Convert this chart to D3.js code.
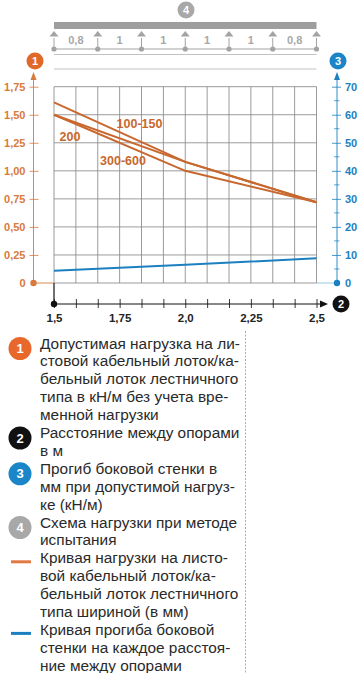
<!DOCTYPE html>
<html><head><meta charset="utf-8">
<script src="https://cdn.jsdelivr.net/npm/d3@7"></script>
<style>
html,body{margin:0;padding:0;background:#fff;}
svg{display:block;}
</style></head>
<body>
<svg id="c" width="360" height="673"></svg>
<script>
// ---- data ----
const spanX = [1.5, 2.0, 2.5];
const load100_150 = [1.61, 1.08, 0.72];
const load200 = [1.50, 1.08, 0.72];
const load300_600 = [1.50, 1.00, 0.72];
const deflection = [4.4, 6.5, 8.8];
const seriesLabels = ["100-150", "200", "300-600"];
const xTickLabels = [1.5, 1.75, 2.0, 2.25, 2.5];
const xTickText = ["1,5", "1,75", "2,0", "2,25", "2,5"];
const yLeftTicks = [0, 0.25, 0.5, 0.75, 1.0, 1.25, 1.5, 1.75];
const yLeftText = ["0", "0,25", "0,50", "0,75", "1,00", "1,25", "1,50", "1,75"];
const yRightTicks = [0, 10, 20, 30, 40, 50, 60, 70];
const schemeSpans = ["0,8", "1", "1", "1", "1", "0,8"];
const legendItems = [
  {mark: "1", lines: ["Допустимая нагрузка на ли-", "стовой кабельный лоток/ка-", "бельный лоток лестничного", "типа в кН/м без учета вре-", "менной нагрузки"]},
  {mark: "2", lines: ["Расстояние между опорами", "в м"]},
  {mark: "3", lines: ["Прогиб боковой стенки в", "мм при допустимой нагруз-", "ке (кН/м)"]},
  {mark: "4", lines: ["Схема нагрузки при методе", "испытания"]},
  {mark: "orange", lines: ["Кривая нагрузки на листо-", "вой кабельный лоток/ка-", "бельный лоток лестничного", "типа шириной (в мм)"]},
  {mark: "blue", lines: ["Кривая прогиба боковой", "стенки на каждое расстоя-", "ние между опорами"]}
];

// ---- style ----
const ORANGE = "#c8682e", ORANGE_T = "#d77a3c", ORANGE_C = "#e2682a";
const BLUE = "#1c80c0", BLUE_C = "#1a86c8";
const GREY = "#a3a3a3", GRID = "#8f8f8f";
const FONT = "'Liberation Sans', Arial, sans-serif";

const svg = d3.select("#c");
const x = d3.scaleLinear().domain([1.5, 2.5]).range([54, 316.5]);
const yL = d3.scaleLinear().domain([0, 1.75]).range([283, 86.7]);
const yR = d3.scaleLinear().domain([0, 70]).range([283, 86.7]);

function badge(g, cx, cy, r, fill, txt, fs) {
  g.append("circle").attr("cx", cx).attr("cy", cy).attr("r", r).attr("fill", fill);
  g.append("text").attr("x", cx).attr("y", cy).attr("dy", "0.36em").attr("text-anchor", "middle")
    .attr("fill", "#fff").attr("font-family", FONT).attr("font-weight", "bold").attr("font-size", fs).text(txt);
}

// ---- load scheme (top) ----
const sch = svg.append("g");
const supX = d3.range(schemeSpans.length + 1).map(i => x.range()[0] + i * (x.range()[1] - x.range()[0]) / schemeSpans.length);
badge(sch, 186, 10, 8.5, "#a8a8a8", "4", 11);
sch.append("rect").attr("x", supX[0]).attr("y", 22).attr("width", supX[6] - supX[0]).attr("height", 7).attr("fill", "#9e9e9e");
sch.append("line").attr("x1", supX[0]).attr("x2", supX[6]).attr("y1", 49).attr("y2", 49).attr("stroke", GREY).attr("stroke-width", 1.2);
sch.append("line").attr("x1", supX[0]).attr("x2", supX[6]).attr("y1", 54.5).attr("y2", 54.5).attr("stroke", "#c2c2c2").attr("stroke-width", 1);
sch.append("line").attr("x1", supX[0]).attr("x2", supX[6]).attr("y1", 69).attr("y2", 69).attr("stroke", "#c2c2c2").attr("stroke-width", 1);
supX.forEach(sx => {
  sch.append("path").attr("d", `M${sx},31 L${sx - 4.5},36.5 L${sx + 4.5},36.5 Z`).attr("fill", GREY);
  sch.append("line").attr("x1", sx).attr("x2", sx).attr("y1", 38).attr("y2", 49).attr("stroke", GREY).attr("stroke-width", 1);
  sch.append("circle").attr("cx", sx).attr("cy", 49).attr("r", 2.6).attr("fill", GREY);
});
schemeSpans.forEach((s, i) => {
  sch.append("text").attr("x", (supX[i] + supX[i + 1]) / 2).attr("y", 44).attr("text-anchor", "middle")
    .attr("fill", "#a8a8a8").attr("font-family", FONT).attr("font-weight", "bold").attr("font-size", 11).text(s);
});

// ---- grid ----
const grid = svg.append("g");
d3.range(13).forEach(i => {
  const gx = x(1.5 + i / 12);
  grid.append("line").attr("x1", gx).attr("x2", gx).attr("y1", yL(1.75)).attr("y2", yL(0)).attr("stroke", GRID).attr("stroke-width", 0.9);
});
yRightTicks.forEach(v => {
  grid.append("line").attr("x1", x(1.5)).attr("x2", x(2.5)).attr("y1", yR(v)).attr("y2", yR(v)).attr("stroke", GRID).attr("stroke-width", 0.9);
});

// ---- left axis (load) ----
const lAx = svg.append("g").attr("transform", "translate(33.5,0)")
  .call(d3.axisLeft(yL).tickValues(yLeftTicks).tickFormat((d, i) => yLeftText[i]).tickSize(0).tickPadding(8));
lAx.select(".domain").remove();
lAx.selectAll("text").attr("fill", ORANGE_T).attr("font-family", FONT).attr("font-weight", "bold").attr("font-size", 11);
lAx.selectAll(".tick line").attr("x1", -4).attr("x2", 5).attr("stroke", ORANGE_T).attr("stroke-width", 0.8);
lAx.selectAll(".tick").filter(d => d === 0).select("line").remove();
svg.append("line").attr("x1", 33.5).attr("x2", 33.5).attr("y1", 283).attr("y2", 78).attr("stroke", ORANGE_T).attr("stroke-width", 0.9);
svg.append("path").attr("d", "M33.5,72 L30.5,80 L36.5,80 Z").attr("fill", ORANGE_T);
svg.append("line").attr("x1", 33.5).attr("x2", 54).attr("y1", 283).attr("y2", 283).attr("stroke", ORANGE_T).attr("stroke-width", 0.9);
svg.append("circle").attr("cx", 33.5).attr("cy", 283).attr("r", 3.2).attr("fill", ORANGE_T);
badge(svg, 35, 61, 8.5, ORANGE_C, "1", 11);

// ---- right axis (deflection) ----
const rAx = svg.append("g").attr("transform", "translate(337,0)")
  .call(d3.axisRight(yR).tickValues(yRightTicks).tickSize(0).tickPadding(8));
rAx.select(".domain").remove();
rAx.selectAll("text").attr("fill", BLUE).attr("font-family", FONT).attr("font-weight", "bold").attr("font-size", 11);
rAx.selectAll(".tick line").attr("x1", -5).attr("x2", 4).attr("stroke", BLUE).attr("stroke-width", 0.8);
rAx.selectAll(".tick").filter(d => d === 0).select("line").remove();
d3.range(5, 70, 10).forEach(v => {
  svg.append("line").attr("x1", 334).attr("x2", 339.5).attr("y1", yR(v)).attr("y2", yR(v)).attr("stroke", BLUE).attr("stroke-width", 0.7);
});
svg.append("line").attr("x1", 337).attr("x2", 337).attr("y1", 283).attr("y2", 78).attr("stroke", BLUE).attr("stroke-width", 0.9);
svg.append("path").attr("d", "M337,72 L334,80 L340,80 Z").attr("fill", BLUE);
svg.append("line").attr("x1", 316.5).attr("x2", 337).attr("y1", 283).attr("y2", 283).attr("stroke", "#8cc0e0").attr("stroke-width", 0.9);
svg.append("circle").attr("cx", 337).attr("cy", 283).attr("r", 3.2).attr("fill", BLUE);
badge(svg, 338, 61, 8.5, BLUE_C, "3", 11);

// ---- x axis (span) ----
const xAx = svg.append("g").attr("transform", "translate(0,304)")
  .call(d3.axisBottom(x).tickValues(d3.range(13).map(i => 1.5 + i / 12))
    .tickFormat(d => { const k = xTickLabels.findIndex(v => Math.abs(v - d) < 1e-6); return k >= 0 ? xTickText[k] : ""; })
    .tickSize(0).tickPadding(10));
xAx.select(".domain").remove();
xAx.selectAll("text").attr("fill", "#222").attr("font-family", FONT).attr("font-weight", "bold").attr("font-size", 11.5);
xAx.selectAll(".tick line").attr("y1", -5).attr("y2", 4).attr("stroke", "#222").attr("stroke-width", 0.9);
svg.append("line").attr("x1", 54).attr("x2", 322).attr("y1", 304).attr("y2", 304).attr("stroke", "#111").attr("stroke-width", 1);
svg.append("path").attr("d", "M328,304 L320,300.5 L320,307.5 Z").attr("fill", "#111");
svg.append("line").attr("x1", 54).attr("x2", 54).attr("y1", 283).attr("y2", 304).attr("stroke", "#111").attr("stroke-width", 1.2);
svg.append("circle").attr("cx", 54).attr("cy", 304).attr("r", 3.2).attr("fill", "#111");
badge(svg, 341, 304, 8.5, "#111", "2", 11);

// ---- series ----
const lineL = d3.line().x((d, i) => x(spanX[i])).y(d => yL(d));
const lineR = d3.line().x((d, i) => x(spanX[i])).y(d => yR(d));
[load100_150, load200, load300_600].forEach(s => {
  svg.append("path").attr("d", lineL(s)).attr("fill", "none").attr("stroke", ORANGE).attr("stroke-width", 2);
});
svg.append("path").attr("d", lineR(deflection)).attr("fill", "none").attr("stroke", BLUE).attr("stroke-width", 2);

// series labels
const lblPos = [[139.5, 127.5], [70, 140.5], [123, 164.5]];
seriesLabels.forEach((t, i) => {
  svg.append("text").attr("x", lblPos[i][0]).attr("y", lblPos[i][1]).attr("text-anchor", "middle")
    .attr("fill", ORANGE).attr("font-family", FONT).attr("font-weight", "bold").attr("font-size", 12.5).text(t);
});

// ---- legend ----
svg.append("line").attr("x1", 245.5).attr("x2", 245.5).attr("y1", 331).attr("y2", 673)
  .attr("stroke", "#8a9aa8").attr("stroke-width", 0.8).attr("stroke-dasharray", "2,1.5");
const LH = 17.9;
let row = 0;
const leg = svg.append("g");
legendItems.forEach(item => {
  const cy = 343 + row * LH;
  if (item.mark === "orange" || item.mark === "blue") {
    leg.append("line").attr("x1", 11).attr("x2", 31).attr("y1", cy + 4).attr("y2", cy + 4)
      .attr("stroke", item.mark === "orange" ? "#e07a45" : BLUE).attr("stroke-width", 3);
  } else {
    const fills = {"1": "#e8682c", "2": "#111", "3": BLUE_C, "4": "#a8a8a8"};
    badge(leg, 20, cy + 5.5, 11.5, fills[item.mark], item.mark, 13);
  }
  item.lines.forEach((ln, j) => {
    leg.append("text").attr("x", 40).attr("y", 343 + (row + j) * LH).attr("dy", "0.36em")
      .attr("fill", "#2a2a2a").attr("font-family", FONT).attr("font-size", 15.4).text(ln);
  });
  row += item.lines.length;
});
</script>
</body></html>
